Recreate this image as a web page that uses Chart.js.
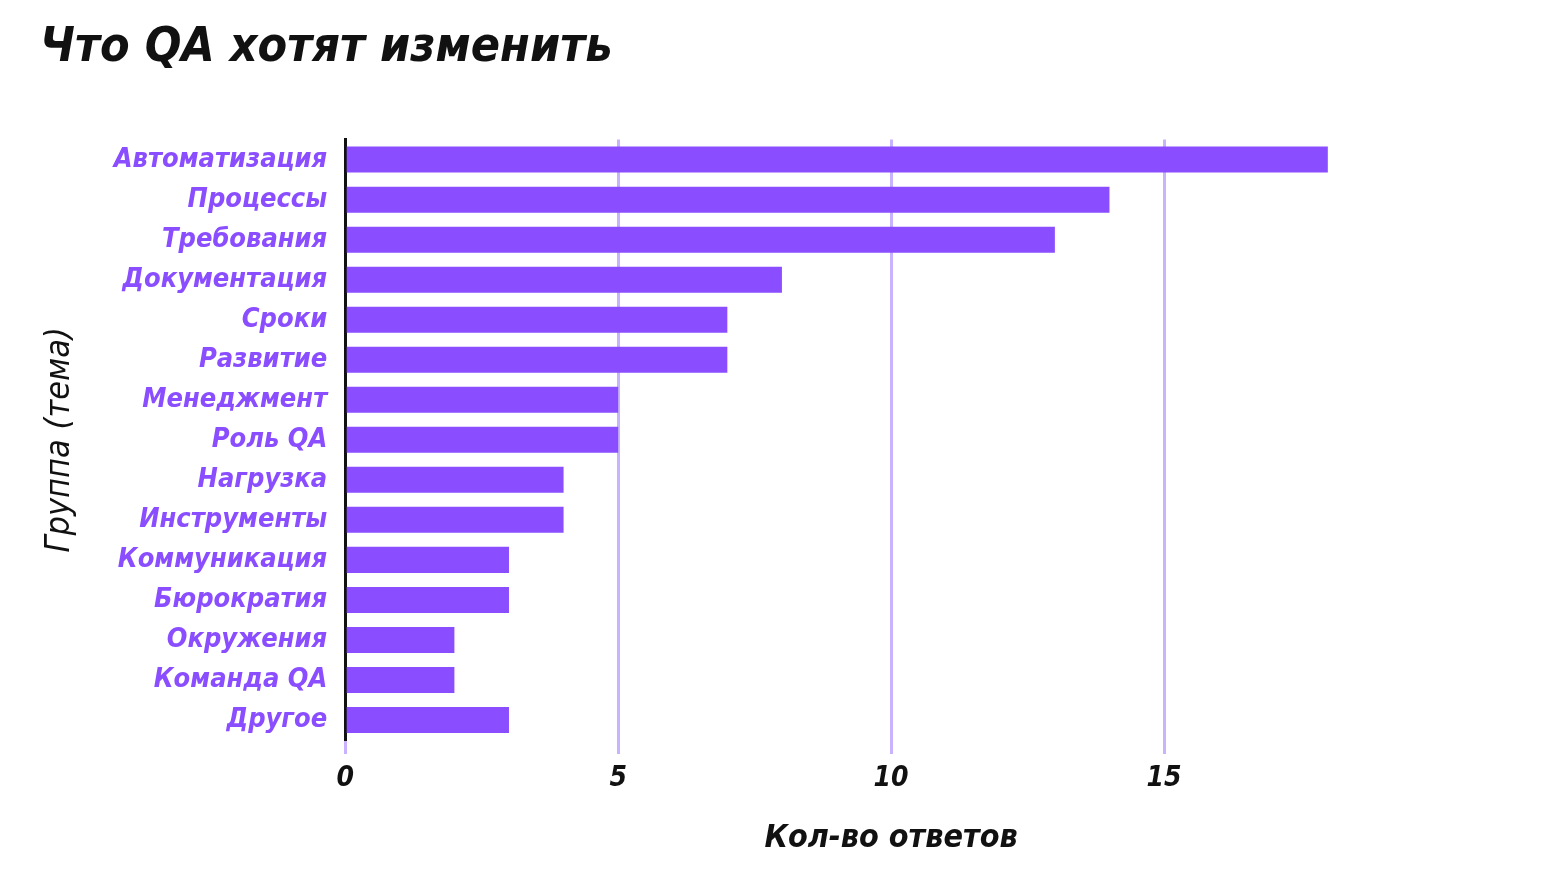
<!DOCTYPE html>
<html>
<head>
<meta charset="utf-8">
<script src="https://cdn.jsdelivr.net/npm/chart.js@4.4.1/dist/chart.umd.min.js"></script>
<style>
  body { margin: 0; background: #fff; }
  #wrap { width: 1560px; height: 877px; }
</style>
</head>
<body>
<div id="wrap"><canvas id="qa-chart"></canvas></div>
<script>
const categories = ['Автоматизация', 'Процессы', 'Требования', 'Документация', 'Сроки', 'Развитие',
    'Менеджмент', 'Роль QA', 'Нагрузка', 'Инструменты', 'Коммуникация', 'Бюрократия',
    'Окружения', 'Команда QA', 'Другое'];
const answers = [18, 14, 13, 8, 7, 7, 5, 5, 4, 4, 3, 3, 2, 2, 3];
const xTicks = [0, 5, 10, 15];

const hand = "'DejaVu Sans Condensed', 'Liberation Sans Narrow', sans-serif";
const purple = '#8a4dff';

const ctx = document.getElementById('qa-chart').getContext('2d');
var myChart = new Chart(ctx, {
    type: 'bar',
    data: {
        labels: categories,
        datasets: [{
            label: 'Кол-во ответов',
            data: answers,
            backgroundColor: purple,
            borderWidth: 0,
            barPercentage: 0.65,
            categoryPercentage: 1
        }]
    },
    options: {
        indexAxis: 'y',
        responsive: true,
        maintainAspectRatio: false,
        animation: false,
        layout: { padding: { left: 40, right: 123, top: 0, bottom: 19 } },
        plugins: {
            legend: { display: false },
            tooltip: { enabled: false },
            title: {
                display: true,
                text: 'Что QA хотят изменить',
                align: 'start',
                color: '#111',
                font: { family: hand, size: 48, weight: 'bold', style: 'italic' },
                padding: { top: 20, bottom: 62 }
            }
        },
        scales: {
            x: {
                min: 0,
                max: 20,
                afterBuildTicks: (axis) => {
                    axis.ticks = xTicks.concat([20]).map(v => ({ value: v }));
                },
                border: { display: false },
                grid: {
                    color: (c) => (c.tick && c.tick.value === 20) ? 'rgba(0,0,0,0)' : '#c9b3ff',
                    lineWidth: 3,
                    tickLength: 14,
                    drawTicks: true
                },
                ticks: {
                    color: '#111',
                    padding: 8,
                    font: { family: hand, size: 28, weight: 'bold', style: 'italic' },
                    callback: (v) => xTicks.includes(v) ? String(v) : ''
                },
                title: {
                    display: true,
                    text: 'Кол-во ответов',
                    color: '#111',
                    font: { family: hand, size: 32, weight: 'bold', style: 'italic' },
                    padding: { top: 16, bottom: 0 }
                }
            },
            y: {
                border: { display: true, color: '#111', width: 3 },
                grid: { display: false },
                ticks: {
                    color: purple,
                    padding: 10,
                    font: { family: hand, size: 27, weight: 'bold', style: 'italic' }
                },
                title: {
                    display: true,
                    text: 'Группа (тема)',
                    color: '#111',
                    font: { family: hand, size: 34, style: 'italic' },
                    padding: { top: 0, bottom: 23 }
                }
            }
        }
    }
});
</script>
</body>
</html>
